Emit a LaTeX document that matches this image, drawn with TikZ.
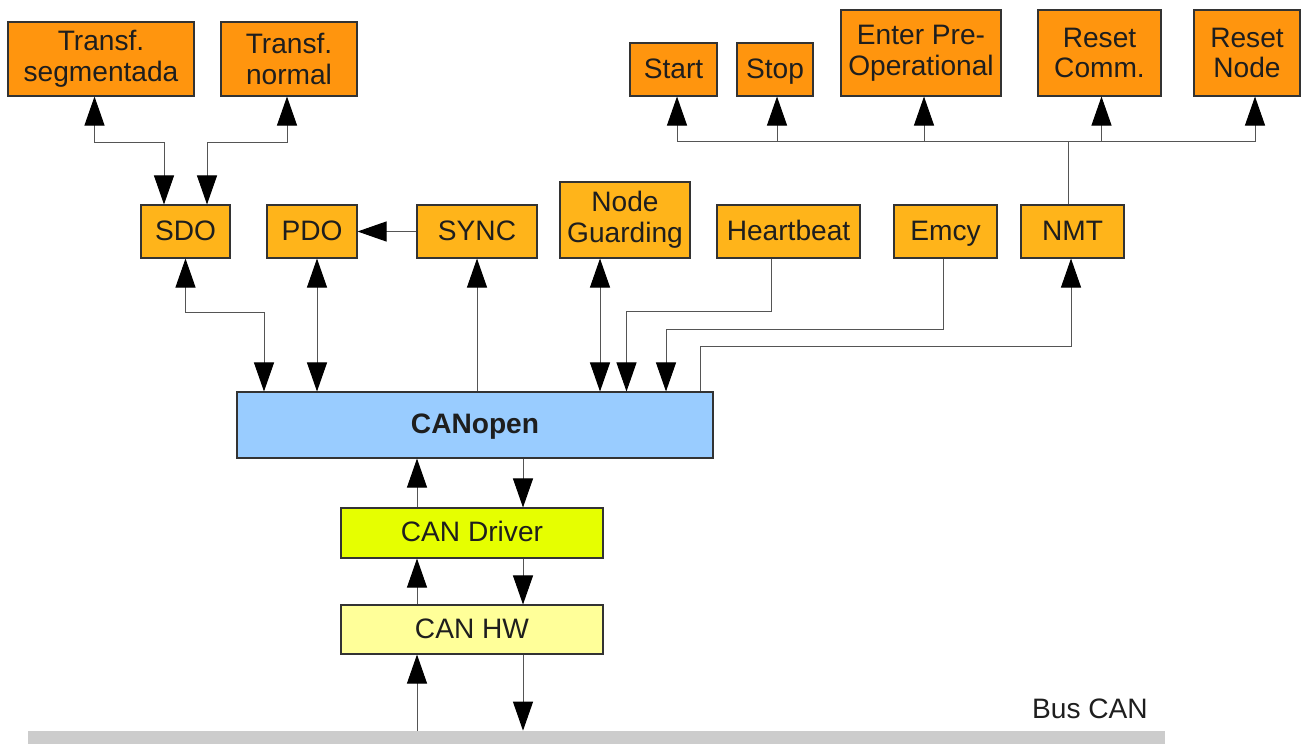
\documentclass[tikz,border=0pt]{standalone}
\usepackage{fontspec}
\setmainfont{Liberation Sans}
\usetikzlibrary{arrows.meta}
\definecolor{boxorange}{HTML}{FF950E}
\definecolor{boxamber}{HTML}{FFB41A}
\definecolor{boxblue}{HTML}{99CCFF}
\definecolor{boxlime}{HTML}{E6FF00}
\definecolor{boxpale}{HTML}{FFFF99}
\definecolor{buscol}{HTML}{CCCCCC}
\definecolor{linecol}{HTML}{555555}
\definecolor{txtcol}{HTML}{1E1E1E}
\begin{document}
\begin{tikzpicture}[
  x=0.2mm, y=-0.2mm,
  box/.style={rectangle, draw=black!80, line width=0.6pt, text=txtcol, inner sep=0pt,
    align=center, font=\fontsize{16pt}{17.5pt}\selectfont},
  obox/.style={box, fill=boxorange},
  abox/.style={box, fill=boxamber, minimum height=10.6mm},
  oneline/.style={text height=13pt, text depth=3.2pt},
  conn/.style={draw=linecol, line width=0.55pt},
  >={Triangle[length=5.8mm, width=4mm, color=black]}
]
  \useasboundingbox (0,0) rectangle (1305,744);

  % top row
  \node[obox, minimum width=37.2mm, minimum height=14.8mm] (seg) at (101,59) {Transf.\\segmentada};
  \node[obox, minimum width=27.2mm, minimum height=14.8mm] (norm) at (289,59) {Transf.\\normal};
  \node[obox, oneline, minimum width=17.4mm, minimum height=10.6mm] (start) at (673.5,69.5) {Start};
  \node[obox, oneline, minimum width=15.2mm, minimum height=10.6mm] (stop) at (775,69.5) {Stop};
  \node[obox, minimum width=32mm, minimum height=17.2mm] (enter) at (921,53) {Enter Pre-\\Operational};
  \node[obox, minimum width=24.6mm, minimum height=17.2mm] (rcomm) at (1099.5,53) {Reset\\Comm.};
  \node[obox, minimum width=21.2mm, minimum height=17.2mm] (rnode) at (1247,53) {Reset\\Node};

  % services
  \node[abox, oneline, minimum width=17.8mm] (sdo) at (185.5,231.5) {SDO};
  \node[abox, oneline, minimum width=18mm] (pdo) at (312,231.5) {PDO};
  \node[abox, oneline, minimum width=24mm] (sync) at (477,231.5) {SYNC};
  \node[abox, minimum width=26mm, minimum height=15.2mm] (guard) at (625,220) {Node\\Guarding};
  \node[abox, oneline, minimum width=28.6mm] (heart) at (788.5,231.5) {Heartbeat};
  \node[abox, oneline, minimum width=20.6mm] (emcy) at (945.5,231.5) {Emcy};
  \node[abox, oneline, minimum width=20.6mm] (nmt) at (1072.5,231.5) {NMT};

  % stack
  \node[box, oneline, fill=boxblue, minimum width=95.2mm, minimum height=13.2mm,
    font=\fontsize{16pt}{17.5pt}\selectfont\bfseries] (canopen) at (475,425) {CANopen};
  \node[box, oneline, fill=boxlime, minimum width=52.4mm, minimum height=10mm] (driver) at (472,533) {CAN Driver};
  \node[box, oneline, fill=boxpale, minimum width=52.4mm, minimum height=9.8mm] (hw) at (472,629.5) {CAN HW};
  \node[rectangle, fill=buscol, inner sep=0pt, minimum width=227.4mm, minimum height=2.6mm] (bus) at (596.5,737.5) {};
  \node[text=txtcol, font=\fontsize{16pt}{17.5pt}\selectfont] (buslbl) at (1090,709) {Bus CAN};

  % SDO transfers
  \draw[conn,<->] ([xshift=-1.3mm]seg.south) -- ++(0,45.7) -| ([xshift=-4.3mm]sdo.north);
  \draw[conn,<->] ([xshift=-0.4mm]norm.south) -- ++(0,45.7) -| ([xshift=4.3mm]sdo.north);
  \draw[conn,->] (sync) -- (pdo);

  % services to CANopen
  \draw[conn,<->] (sdo.south) -- ++(0,53.5) -| ([xshift=-42.2mm]canopen.north);
  \draw[conn,<->] ([xshift=1mm]pdo.south) -- ([xshift=1mm]pdo.south |- canopen.north);
  \draw[conn,->] (canopen.north -| sync) -- (sync.south);
  \draw[conn,<->] ([xshift=-5mm]guard.south) -- ([xshift=-5mm]guard.south |- canopen.north);
  \draw[conn,->] ([xshift=-3.5mm]heart.south) -- ++(0,53.2) -| ([xshift=30.3mm]canopen.north);
  \draw[conn,->] ([xshift=-0.5mm]emcy.south) -- ++(0,71) -| ([xshift=38.2mm]canopen.north);
  \draw[conn,->] ([xshift=45mm]canopen.north) -- ++(0,-45.3) -| ([xshift=-0.3mm]nmt.south);

  % NMT commands
  \draw[conn] ([xshift=-0.9mm]nmt.north) -- ++(0,-63.3) coordinate (nmtj);
  \foreach \b/\dx in {start/0.7, stop/0.4, enter/0.6, rcomm/0.4, rnode/1.6}
    \draw[conn,->] (nmtj) -| ([xshift=\dx mm]\b.south);

  % lower layers
  \draw[conn,->] ([xshift=-11mm]driver.north) -- ([xshift=-11mm]driver.north |- canopen.south);
  \draw[conn,->] ([xshift=10.2mm]driver.north |- canopen.south) -- ([xshift=10.2mm]driver.north);
  \draw[conn,->] ([xshift=-11mm]hw.north) -- ([xshift=-11mm]driver.south);
  \draw[conn,->] ([xshift=10.2mm]driver.south) -- ([xshift=10.2mm]hw.north);
  \draw[conn,->] ([xshift=-11mm]hw.south |- bus.north) -- ([xshift=-11mm]hw.south);
  \draw[conn,->] ([xshift=10.2mm]hw.south) -- ([xshift=10.2mm]hw.south |- bus.north);
\end{tikzpicture}
\end{document}
